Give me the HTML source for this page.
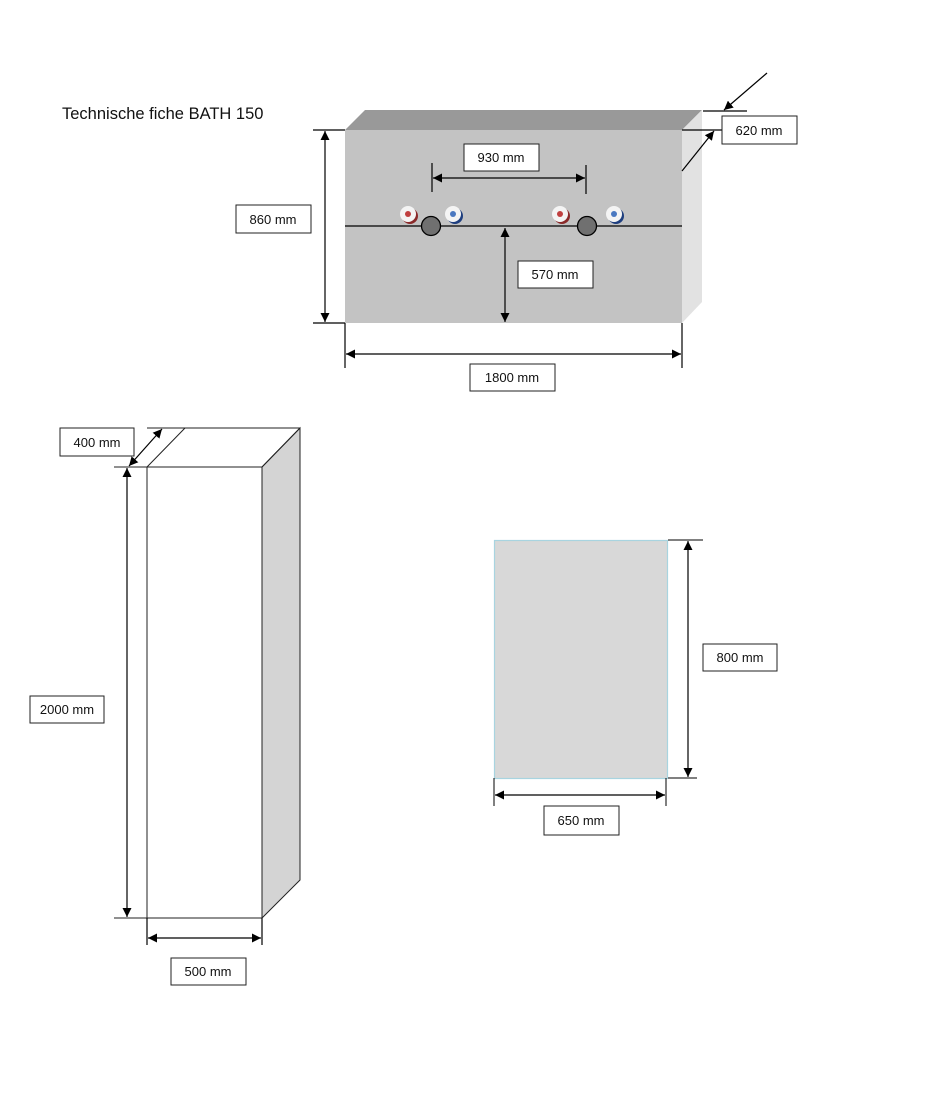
<!DOCTYPE html>
<html><head><meta charset="utf-8"><style>
html,body{margin:0;padding:0;background:#fff;}
svg text{font-family:"Liberation Sans",sans-serif;font-size:13px;fill:#111;}
</style></head><body>
<svg width="930" height="1088" viewBox="0 0 930 1088" xmlns="http://www.w3.org/2000/svg">
<defs>
<marker id="a" viewBox="0 0 10 10" refX="10" refY="5" markerWidth="9" markerHeight="9" orient="auto-start-reverse" markerUnits="userSpaceOnUse"><path d="M0,0L10,5L0,10z" fill="#000"/></marker>
</defs>
<text x="62" y="119" style="font-size:16.5px">Technische fiche BATH 150</text>
<!-- top box -->
<polygon points="345,130 365,110 702,110 682,130" fill="#999"/>
<polygon points="682,130 702,110 702,302 682,323" fill="#e2e2e2"/>
<rect x="345" y="130" width="337" height="193" fill="#c3c3c3"/>
<line x1="345" y1="226" x2="682" y2="226" stroke="#000" stroke-width="1.3"/>
<g stroke="#000" stroke-width="1.2" fill="none">
<line x1="313" y1="130" x2="345" y2="130"/><line x1="313" y1="323" x2="345" y2="323"/>
<line x1="325" y1="131" x2="325" y2="322" marker-start="url(#a)" marker-end="url(#a)"/>
<line x1="345" y1="323" x2="345" y2="368"/><line x1="682" y1="323" x2="682" y2="368"/>
<line x1="346" y1="354" x2="681" y2="354" marker-start="url(#a)" marker-end="url(#a)"/>
<line x1="432" y1="163" x2="432" y2="192"/><line x1="586" y1="165" x2="586" y2="194"/>
<line x1="433" y1="178" x2="585" y2="178" marker-start="url(#a)" marker-end="url(#a)"/>
<line x1="505" y1="228" x2="505" y2="322" marker-start="url(#a)" marker-end="url(#a)"/>
<line x1="703" y1="111" x2="747" y2="111"/>
<line x1="767" y1="73" x2="724" y2="110" marker-end="url(#a)"/>
<line x1="682" y1="130" x2="722" y2="130"/>
<line x1="682" y1="171" x2="714" y2="131" marker-end="url(#a)"/>
</g>
<g>
<circle cx="410" cy="216" r="8" fill="#8a2a2a"/><circle cx="408" cy="214" r="8" fill="#f4f4f4"/><circle cx="408" cy="214" r="3" fill="#c04040"/>
<circle cx="455" cy="216" r="8" fill="#1f3f7f"/><circle cx="453" cy="214" r="8" fill="#f4f4f4"/><circle cx="453" cy="214" r="3" fill="#4a78c0"/>
<circle cx="562" cy="216" r="8" fill="#8a2a2a"/><circle cx="560" cy="214" r="8" fill="#f4f4f4"/><circle cx="560" cy="214" r="3" fill="#c04040"/>
<circle cx="616" cy="216" r="8" fill="#1f3f7f"/><circle cx="614" cy="214" r="8" fill="#f4f4f4"/><circle cx="614" cy="214" r="3" fill="#4a78c0"/>
<circle cx="431" cy="226" r="9.5" fill="#707070" stroke="#000" stroke-width="1.3"/>
<circle cx="587" cy="226" r="9.5" fill="#707070" stroke="#000" stroke-width="1.3"/>
</g>
<g fill="#fff" stroke="#222" stroke-width="1">
<rect x="464" y="144" width="75" height="27"/><rect x="518" y="261" width="75" height="27"/>
<rect x="236" y="205" width="75" height="28"/><rect x="470" y="364" width="85" height="27"/>
<rect x="722" y="116" width="75" height="28"/>
<rect x="60" y="428" width="74" height="28"/><rect x="30" y="696" width="74" height="27"/>
<rect x="171" y="958" width="75" height="27"/>
<rect x="703" y="644" width="74" height="27"/><rect x="544" y="806" width="75" height="29"/>
</g>
<text x="501" y="162" text-anchor="middle">930 mm</text>
<text x="555" y="279" text-anchor="middle">570 mm</text>
<text x="273" y="224" text-anchor="middle">860 mm</text>
<text x="512" y="382" text-anchor="middle">1800 mm</text>
<text x="759" y="135" text-anchor="middle">620 mm</text>
<text x="97" y="447" text-anchor="middle">400 mm</text>
<text x="67" y="714" text-anchor="middle">2000 mm</text>
<text x="208" y="976" text-anchor="middle">500 mm</text>
<text x="740" y="662" text-anchor="middle">800 mm</text>
<text x="581" y="825" text-anchor="middle">650 mm</text>
<!-- column -->
<g stroke="#222" stroke-width="1" fill="none">
<polygon points="262,467 300,428 300,880 262,918" fill="#d4d4d4"/>
<line x1="147" y1="428" x2="300" y2="428"/>
<line x1="147" y1="467" x2="185" y2="428"/>
<line x1="262" y1="467" x2="300" y2="428"/>
<rect x="147" y="467" width="115" height="451" fill="#fff"/>
<line x1="114" y1="467" x2="147" y2="467"/><line x1="114" y1="918" x2="147" y2="918"/>
</g>
<g stroke="#000" stroke-width="1.2">
<line x1="127" y1="468" x2="127" y2="917" marker-start="url(#a)" marker-end="url(#a)"/>
<line x1="129" y1="466" x2="162" y2="429" marker-start="url(#a)" marker-end="url(#a)"/>
<line x1="147" y1="918" x2="147" y2="945"/><line x1="262" y1="918" x2="262" y2="945"/>
<line x1="148" y1="938" x2="261" y2="938" marker-start="url(#a)" marker-end="url(#a)"/>
</g>
<!-- plate -->
<rect x="494.5" y="540.5" width="173" height="238" fill="#d8d8d8" stroke="#a8d4e0" stroke-width="1.2"/>
<g stroke="#000" stroke-width="1.2">
<line x1="668" y1="540" x2="703" y2="540" stroke-width="1"/><line x1="668" y1="778" x2="697" y2="778" stroke-width="1"/>
<line x1="688" y1="541" x2="688" y2="777" marker-start="url(#a)" marker-end="url(#a)"/>
<line x1="494" y1="778" x2="494" y2="806" stroke-width="1"/><line x1="666" y1="778" x2="666" y2="806" stroke-width="1"/>
<line x1="495" y1="795" x2="665" y2="795" marker-start="url(#a)" marker-end="url(#a)"/>
</g>
</svg>
</body></html>
